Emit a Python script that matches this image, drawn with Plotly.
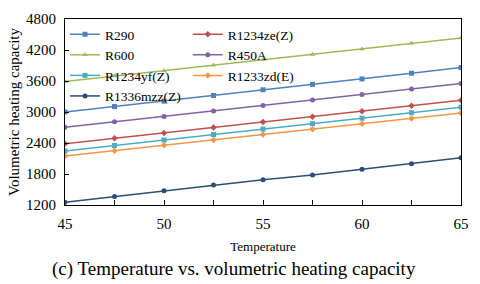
import plotly.graph_objects as go

temps = [45, 47.5, 50, 52.5, 55, 57.5, 60, 62.5, 65]

R290 = [3000, 3105, 3210, 3320, 3430, 3535, 3640, 3750, 3860]
R1234ze_Z = [2385, 2490, 2595, 2700, 2805, 2910, 3015, 3120, 3227]
R600 = [3590, 3695, 3800, 3905, 4010, 4115, 4220, 4330, 4430]
R450A = [2703, 2810, 2915, 3020, 3125, 3230, 3340, 3445, 3554]
R1234yf_Z = [2246, 2352, 2458, 2564, 2670, 2775, 2880, 2986, 3092]
R1233zd_E = [2148, 2252, 2356, 2460, 2564, 2668, 2772, 2876, 2981]
R1336mzz_Z = [1252, 1363, 1474, 1585, 1690, 1783, 1894, 2000, 2116]

series = [
    ("R290", R290, "#4F81BD", "square", "legend"),
    ("R600", R600, "#9BBB59", "triangle-up", "legend"),
    ("R1234yf(Z)", R1234yf_Z, "#4BACC6", "square", "legend"),
    ("R1336mzz(Z)", R1336mzz_Z, "#2C4D75", "circle", "legend"),
    ("R1234ze(Z)", R1234ze_Z, "#C0504D", "diamond", "legend2"),
    ("R450A", R450A, "#8064A2", "circle", "legend2"),
    ("R1233zd(E)", R1233zd_E, "#F79646", "diamond", "legend2"),
]

font_family = "Liberation Serif, Times New Roman, serif"

fig = go.Figure()
for name, vals, color, sym, lg in series:
    fig.add_trace(go.Scatter(
        x=temps, y=vals, name=name, mode="lines+markers",
        line=dict(color=color, width=1.5),
        marker=dict(symbol=sym, size=5, color=color),
        legend=lg,
    ))

legend_common = dict(
    font=dict(family=font_family, size=13.5, color="black"),
    bgcolor="rgba(0,0,0,0)", borderwidth=0,
    yanchor="top", y=1.0, xanchor="left",
    tracegroupgap=0, itemwidth=30,
)

fig.update_layout(
    width=480, height=284,
    margin=dict(l=65, r=11, t=11, b=79),
    paper_bgcolor="white", plot_bgcolor="white",
    font=dict(family=font_family, color="black"),
    showlegend=True,
    legend=dict(x=0.0, **legend_common),
    legend2=dict(x=0.31, **legend_common),
    xaxis=dict(
        range=[45, 65], dtick=5, tick0=45,
        showgrid=False, zeroline=False,
        showline=True, linecolor="black", linewidth=1, mirror=True,
        ticks="inside", ticklen=5, tickcolor="black",
        ticklabelstandoff=5,
        minor=dict(dtick=2.5, ticks="inside", ticklen=5, tickcolor="black"),
        tickfont=dict(family=font_family, size=15, color="black"),
        title=dict(text="Temperature", font=dict(family=font_family, size=13, color="black"), standoff=10),
    ),
    yaxis=dict(
        range=[1200, 4800], dtick=600, tick0=1200,
        showgrid=False, zeroline=False,
        showline=True, linecolor="black", linewidth=1, mirror=True,
        ticks="inside", ticklen=4, tickcolor="black",
        ticklabelstandoff=5,
        tickfont=dict(family=font_family, size=15, color="black"),
        title=dict(text="Volumetric heating capacity", font=dict(family=font_family, size=15, color="black"), standoff=2),
    ),
    annotations=[dict(
        text="(c) Temperature vs. volumetric heating capacity",
        xref="paper", yref="paper", x=0.427, y=-0.345, xanchor="center", yanchor="middle",
        showarrow=False, font=dict(family=font_family, size=19, color="black"),
    )],
)

fig.write_html("out.html", config={"displayModeBar": False},
               post_script="document.body.style.margin='0';document.body.style.overflow='hidden';")
